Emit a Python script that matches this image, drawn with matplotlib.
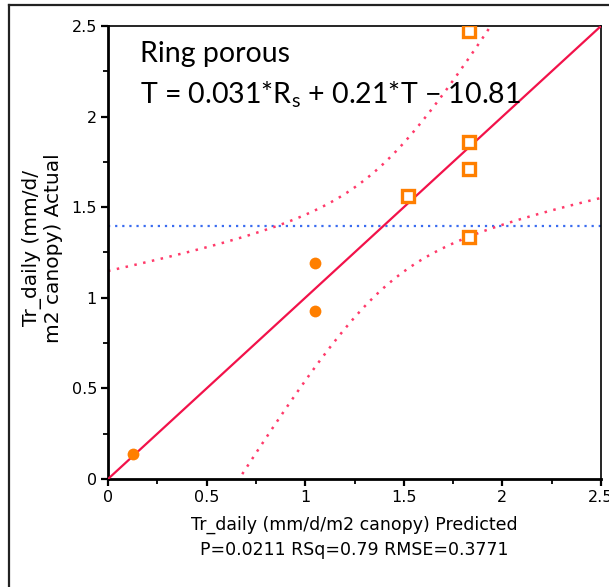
import numpy as np
import matplotlib
matplotlib.use("Agg")
import matplotlib.pyplot as plt
from matplotlib.lines import Line2D
from matplotlib.ticker import MultipleLocator, FixedLocator, FixedFormatter

# Observations: predicted vs actual daily transpiration
circle_pred = [0.125, 1.05, 1.05]
circle_actual = [0.14, 1.19, 0.925]
square_pred = [1.52, 1.83, 1.83, 1.83, 1.83]
square_actual = [1.56, 1.86, 1.71, 1.335, 2.47]

# Whole-model fit statistics
rmse = 0.3771
n_params = 2          # predictors in the model
t_crit = 2.571        # t(0.025, df=5)
f_crit = 5.786        # F(0.05, 2, 5)

tick_values = [0, 0.5, 1, 1.5, 2, 2.5]
tick_labels = ["0", "0.5", "1", "1.5", "2", "2.5"]

W, H = 609, 587
fig = plt.figure(figsize=(W / 100, H / 100), dpi=100)
fig.patch.set_facecolor("white")

ax = fig.add_axes([108 / W, 1 - 479 / H, (601 - 108) / W, (479 - 26) / H])

pred_all = np.array(circle_pred + square_pred)
act_all = np.array(circle_actual + square_actual)
n = len(pred_all)
x_mean = pred_all.mean()
y_mean = act_all.mean()
sxx = np.sum((pred_all - x_mean) ** 2)

xs = np.linspace(0, 2.5, 400)
half = np.sqrt(t_crit ** 2 * rmse ** 2 / n
               + n_params * f_crit * rmse ** 2 * (xs - x_mean) ** 2 / sxx)

red = "#f2124a"
pink = "#ff3a6a"
orange = "#ff7f00"

ax.axhline(y_mean, color="#3a6cf0", lw=1.6, ls=(0, (1, 2.2)), zorder=2)
ax.plot(xs, xs, color=red, lw=1.6, zorder=3)
ax.plot(xs, xs + half, color=pink, lw=1.8, ls=(0, (1, 2.6)), zorder=2)
ax.plot(xs, xs - half, color=pink, lw=1.8, ls=(0, (1, 2.6)), zorder=2)

ax.plot(circle_pred, circle_actual, ls="none", marker="o", ms=8.5,
        mfc=orange, mec=orange, mew=0, zorder=4)
ax.plot(square_pred, square_actual, ls="none", marker="s", ms=8.8,
        mfc="white", mec=orange, mew=2.4, zorder=4)

ax.set_xlim(0, 2.5)
ax.set_ylim(0, 2.5)

for a in (ax.xaxis, ax.yaxis):
    a.set_major_locator(FixedLocator(tick_values))
    a.set_major_formatter(FixedFormatter(tick_labels))
    a.set_minor_locator(MultipleLocator(0.25))

ax.tick_params(which="major", direction="out", length=5, width=1.6,
               labelsize=11.5, pad=3, colors="black")
ax.tick_params(which="minor", direction="out", length=3.5, width=1.3)

ax.spines["left"].set_linewidth(2.0)
ax.spines["bottom"].set_linewidth(2.0)
ax.spines["top"].set_linewidth(1.2)
ax.spines["right"].set_linewidth(1.2)

label_font = "DejaVu Sans"
ax.set_xlabel("Tr_daily (mm/d/m2 canopy) Predicted\nP=0.0211 RSq=0.79 RMSE=0.3771",
              fontsize=12.5, family=label_font, labelpad=8, linespacing=1.45)
ax.set_ylabel("Tr_daily (mm/d/\nm2 canopy) Actual", fontsize=14.5,
              family=label_font, linespacing=1.08)
ax.yaxis.set_label_coords(-0.092, 0.51)

ann_font = ["Lato", "DejaVu Sans"]
ax.text(140 / W, 1 - 62 / H, "Ring porous", transform=fig.transFigure,
        fontsize=20.5, family=ann_font, va="baseline", ha="left")
ax.text(140 / W, 1 - 103 / H,
        "T = 0.031*R$_\\mathregular{s}$ + 0.21*T \u2212 10.81",
        transform=fig.transFigure, fontsize=20.5, family=ann_font,
        va="baseline", ha="left")

# Outer frame of the report panel
fig.add_artist(Line2D([9 / W, 1.0], [1 - 5 / H, 1 - 5 / H],
                      transform=fig.transFigure, color="#222222", lw=1.6))
fig.add_artist(Line2D([9 / W, 9 / W], [1 - 5 / H, 0.0],
                      transform=fig.transFigure, color="#222222", lw=1.6))

fig.savefig("out.png", dpi=100)
